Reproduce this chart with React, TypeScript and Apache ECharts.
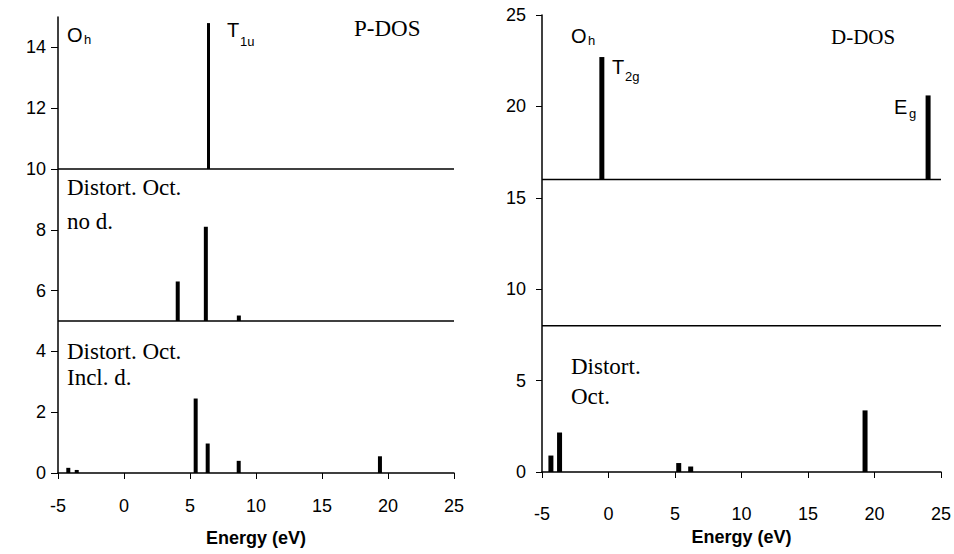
import React, { useEffect, useRef } from "react";
import * as echarts from "echarts";

// Energy range shared by both panels (eV)
const energyTicks = [-5, 0, 5, 10, 15, 20, 25];

// P-DOS panel: y-axis ticks
const pDosTicks = [0, 2, 4, 6, 8, 10, 12, 14];
// P-DOS vertical offsets of the three stacked spectra
const pOffsets = [10, 5, 0];
// P-DOS, Oh
const pOhEnergy = [6.4];
const pOhDos = [4.8];
// P-DOS, distorted octahedron, no d
const pNoDEnergy = [4.07, 6.2, 8.7];
const pNoDDos = [1.3, 3.1, 0.18];
// P-DOS, distorted octahedron, incl. d
const pInclDEnergy = [-4.22, -3.58, 5.43, 6.34, 8.69, 19.39];
const pInclDDos = [0.17, 0.1, 2.45, 0.97, 0.4, 0.55];

// D-DOS panel: y-axis ticks
const dDosTicks = [0, 5, 10, 15, 20, 25];
// D-DOS vertical offsets
const dOffsets = [16, 8, 0];
// D-DOS, Oh
const dOhEnergy = [-0.5, 24.03];
const dOhDos = [6.7, 4.6];
// D-DOS, middle spectrum (no peaks)
const dMidEnergy: number[] = [];
const dMidDos: number[] = [];
// D-DOS, distorted octahedron
const dDistEnergy = [-4.33, -3.68, 5.28, 6.18, 19.29];
const dDistDos = [0.9, 2.16, 0.49, 0.3, 3.37];

const SANS = "Liberation Sans, Arial, sans-serif";
const SERIF = "Liberation Serif, Times New Roman, serif";

function peakSeries(
  energies: number[],
  dos: number[],
  offset: number,
  axisIndex: number,
  width: number
) {
  return {
    type: "custom",
    xAxisIndex: axisIndex,
    yAxisIndex: axisIndex,
    silent: true,
    data: energies.map((e, i) => [e, dos[i]]),
    renderItem: (_p: any, api: any) => {
      const x = api.value(0);
      const h = api.value(1);
      const p0 = api.coord([x, offset]);
      const p1 = api.coord([x, offset + h]);
      return {
        type: "rect",
        shape: { x: p0[0] - width / 2, y: p1[1], width, height: p0[1] - p1[1] },
        style: { fill: "#000" },
      };
    },
  };
}

function baseline(offset: number, axisIndex: number) {
  return {
    type: "line",
    xAxisIndex: axisIndex,
    yAxisIndex: axisIndex,
    silent: true,
    symbol: "none",
    lineStyle: { color: "#000", width: 1.5 },
    data: [
      [energyTicks[0], offset],
      [energyTicks[energyTicks.length - 1], offset],
    ],
  };
}

function xAxisCfg(gridIndex: number, margin: number, nameGap: number) {
  return {
    type: "value",
    gridIndex,
    min: energyTicks[0],
    max: energyTicks[energyTicks.length - 1],
    interval: 5,
    name: "Energy (eV)",
    nameLocation: "middle",
    nameGap,
    nameTextStyle: { fontFamily: SANS, fontWeight: "bold", fontSize: 18, color: "#000" },
    axisLine: { onZero: false, lineStyle: { color: "#000", width: 1.5 } },
    axisTick: { show: true, length: 6, lineStyle: { color: "#000" } },
    axisLabel: { fontFamily: SANS, fontSize: 18, color: "#000", margin },
    splitLine: { show: false },
  };
}

function subText(
  x: number,
  y: number,
  main: string,
  sub: string,
  mainSize: number,
  subSize: number,
  subDy: number,
  subDx: number
) {
  return [
    {
      type: "text",
      x,
      y,
      style: {
        text: main,
        fontFamily: SANS,
        fontSize: mainSize,
        fill: "#000",
        verticalAlign: "bottom",
      },
    },
    {
      type: "text",
      x: x + subDx,
      y: y + subDy,
      style: {
        text: sub,
        fontFamily: SANS,
        fontSize: subSize,
        fill: "#000",
        verticalAlign: "bottom",
      },
    },
  ];
}

function serifText(x: number, y: number, text: string, size: number) {
  return {
    type: "text",
    x,
    y,
    style: { text, fontFamily: SERIF, fontSize: size, fill: "#000", verticalAlign: "top" },
  };
}

export default function App() {
  const ref = useRef<HTMLDivElement>(null);
  useEffect(() => {
    if (!ref.current) return;
    const chart = echarts.init(ref.current, null, { renderer: "svg" });
    chart.setOption({
      animation: false,
      backgroundColor: "#fff",
      grid: [
        { left: 58, right: 500, top: 17, bottom: 81 },
        { left: 542, right: 12, top: 15, bottom: 82 },
      ],
      xAxis: [xAxisCfg(0, 24, 56), xAxisCfg(1, 33, 56)],
      yAxis: [
        {
          type: "value",
          gridIndex: 0,
          min: 0,
          max: 15,
          axisLine: { show: true, onZero: false, lineStyle: { color: "#000", width: 1.5 } },
          axisTick: { show: true, length: 7, customValues: pDosTicks, lineStyle: { color: "#000" } },
          axisLabel: { fontFamily: SANS, fontSize: 18, color: "#000", margin: 12, customValues: pDosTicks },
          splitLine: { show: false },
        },
        {
          type: "value",
          gridIndex: 1,
          min: 0,
          max: 25,
          interval: 5,
          axisLine: { show: true, onZero: false, lineStyle: { color: "#000", width: 1.5 } },
          axisTick: { show: true, length: 6, customValues: dDosTicks, lineStyle: { color: "#000" } },
          axisLabel: { fontFamily: SANS, fontSize: 18, color: "#000", margin: 16, customValues: dDosTicks },
          splitLine: { show: false },
        },
      ],
      series: [
        baseline(pOffsets[0], 0),
        baseline(pOffsets[1], 0),
        baseline(dOffsets[0], 1),
        baseline(dOffsets[1], 1),
        peakSeries(pOhEnergy, pOhDos, pOffsets[0], 0, 3),
        peakSeries(pNoDEnergy, pNoDDos, pOffsets[1], 0, 4),
        peakSeries(pInclDEnergy, pInclDDos, pOffsets[2], 0, 4),
        peakSeries(dOhEnergy, dOhDos, dOffsets[0], 1, 5),
        peakSeries(dMidEnergy, dMidDos, dOffsets[1], 1, 5),
        peakSeries(dDistEnergy, dDistDos, dOffsets[2], 1, 5),
      ],
      graphic: [
        ...subText(67, 45, "O", "h", 20, 13, 1, 17),
        ...subText(227, 40, "T", "1u", 20, 13, 8, 13),
        serifText(354, 17, "P-DOS", 23),
        serifText(67, 176, "Distort. Oct.", 23),
        serifText(67, 210, "no d.", 23),
        serifText(67, 340, "Distort. Oct.", 23),
        serifText(67, 366, "Incl. d.", 23),
        ...subText(571, 46, "O", "h", 20, 13, 1, 17),
        serifText(831, 26, "D-DOS", 21),
        ...subText(612, 77, "T", "2g", 20, 13, 6, 13),
        ...subText(894, 117, "E", "g", 20, 13, 3, 15),
        serifText(571, 355, "Distort.", 23),
        serifText(571, 385, "Oct.", 23),
      ],
    });
    return () => chart.dispose();
  }, []);
  return <div ref={ref} style={{ width: 954, height: 554, position: "absolute", left: 0, top: 0 }} />;
}
